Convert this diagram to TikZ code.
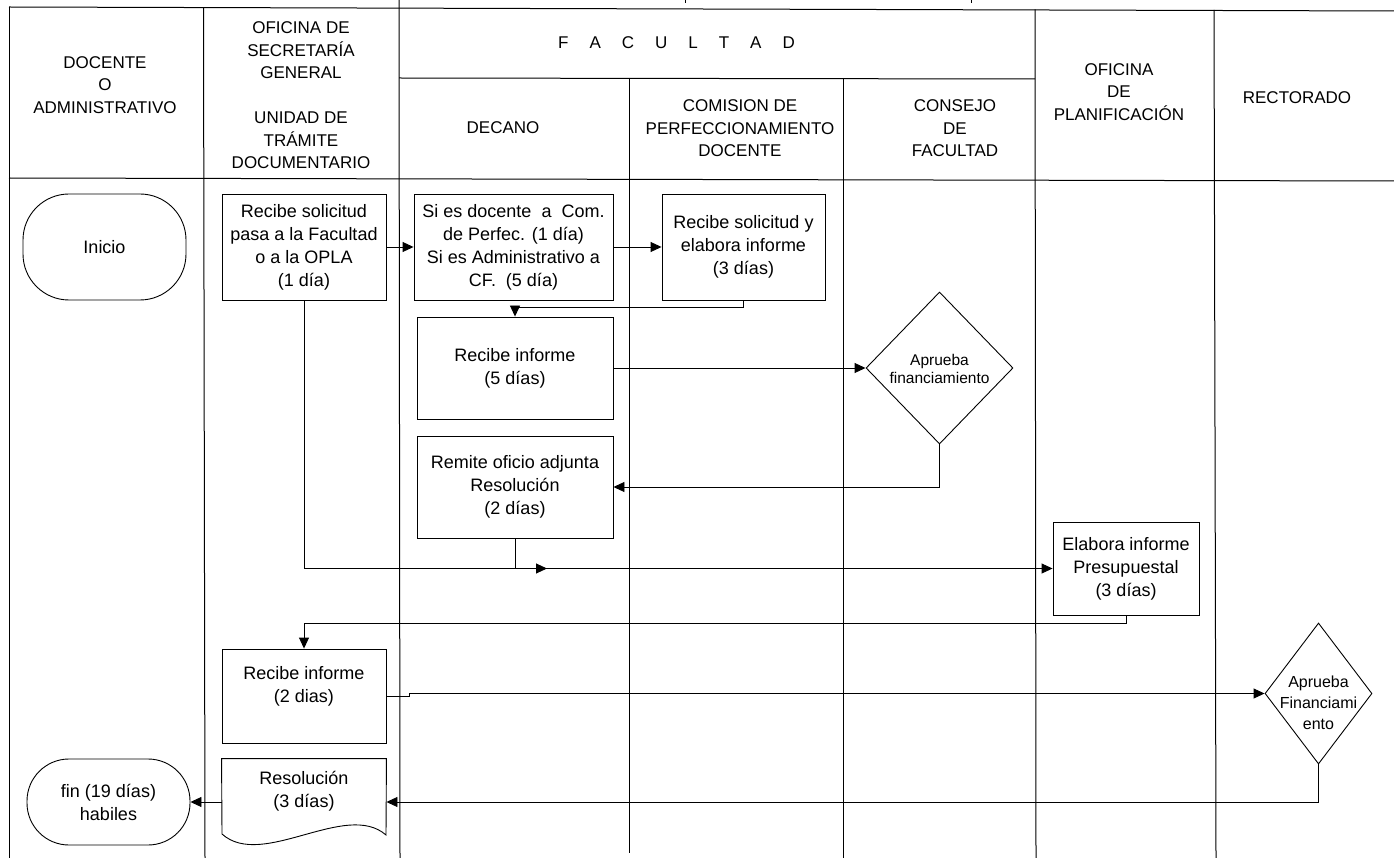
\documentclass[tikz,border=0pt]{standalone}
\usepackage{fontspec}
\setmainfont{Liberation Sans}
\usetikzlibrary{shapes.geometric,arrows.meta}
\begin{document}
\begin{tikzpicture}[x=1pt,y=-1pt,
  line width=0.9pt,
  lane/.style={line width=1pt},
  hdr/.style={align=center,font=\fontsize{17}{22.5}\selectfont,inner sep=0},
  box/.style={draw,rectangle,inner sep=0,align=center,font=\fontsize{18}{23}\selectfont},
  term/.style={draw,rectangle,rounded corners=46pt,inner sep=0,align=center,font=\fontsize{18}{23}\selectfont},
  txt/.style={inner sep=0,align=center,font=\fontsize{18}{23}\selectfont},
  dtxt/.style={inner sep=0,align=center,font=\fontsize{15.5}{18}\selectfont},
  dtxtb/.style={inner sep=0,align=center,font=\fontsize{16}{21}\selectfont},
  dec/.style={draw,diamond,inner sep=0},
  arr/.style={-{Triangle[length=11pt,width=10pt]}},
]
\useasboundingbox (0,0) rectangle (1394,858);

% swimlane grid
\draw[lane] (9,7) -- (1394,11);
\draw[lane] (9,178) -- (1394,181);
\draw[lane] (399,78) -- (1035,79);
\draw[lane] (9,7) -- (9,858);
\draw[lane] (203.5,7.5) -- (205,858);
\draw[lane] (399,0) -- (400,858);
\draw[lane] (629,78) -- (629,853);
\draw[lane] (843,78) -- (843,858);
\draw[lane] (1035,9.5) -- (1036,858);
\draw[lane] (1214,10) -- (1216,858);
\draw[line width=0.8pt] (685,0) -- (685,3);
\draw[line width=0.8pt] (971,0) -- (971,3);

% headers
\node[hdr] (hdoc) at (105,85) {DOCENTE\\O\\ADMINISTRATIVO};
\node[hdr] (hsec) at (301,95.5) {OFICINA DE\\SECRETARÍA\\GENERAL\\[22.5pt]UNIDAD DE\\TRÁMITE\\DOCUMENTARIO};
\node[hdr] (hfac) at (676.5,43) {F\hspace{21pt}A\hspace{21pt}C\hspace{21pt}U\hspace{21pt}L\hspace{21pt}T\hspace{21pt}A\hspace{21pt}D};
\node[hdr] (hdecano) at (503,128) {DECANO};
\node[hdr] (hcom) at (740,128.5) {COMISION DE\\PERFECCIONAMIENTO\\DOCENTE};
\node[hdr] (hcons) at (955,128.5) {CONSEJO\\DE\\FACULTAD};
\node[hdr] (hplan) at (1119,92) {OFICINA\\DE\\PLANIFICACIÓN};
\node[hdr] (hrect) at (1297,98) {RECTORADO};

% flow nodes
\node[term,minimum width=163pt,minimum height=106pt] (inicio) at (104.5,247) {Inicio};
\node[box,minimum width=164pt,minimum height=106pt] (utd1) at (304,247) {Recibe solicitud\\pasa a la Facultad\\o a la OPLA\\(1 día)};
\node[box,minimum width=199pt,minimum height=106pt] (dec1) at (513.5,247) {Si es docente\ \ a\ \ Com.\\de Perfec. (1 día)\\Si es Administrativo a\\CF.\ \ (5 día)};
\node[box,minimum width=163pt,minimum height=106pt] (com1) at (743.5,247) {Recibe solicitud y\\elabora informe\\(3 días)};
\node[box,minimum width=196pt,minimum height=102pt] (dec2) at (515,368) {Recibe informe\\(5 días)};
\node[dec,minimum width=147pt,minimum height=152pt] (dia1) at (939.5,368) {};
\node[dtxt] (dia1t) at (939.5,369) {Aprueba\\financiamiento};
\node[box,minimum width=196pt,minimum height=102pt] (dec3) at (515,487) {Remite oficio adjunta\\Resolución\\(2 días)};
\node[box,minimum width=146pt,minimum height=93pt] (elab) at (1126,568.5) {Elabora informe\\Presupuestal\\(3 días)};
\node[box,minimum width=164pt,minimum height=94pt] (utd2) at (304,696) {};
\node[txt] (utd2t) at (304,686) {Recibe informe\\(2 dias)};
\node[dec,minimum width=107pt,minimum height=141pt] (dia2) at (1318.5,693.5) {};
\node[dtxtb] (dia2t) at (1318.5,703) {Aprueba\\Financiami\\ento};
\node[inner sep=0,minimum width=164pt,minimum height=86pt] (resol) at (304,802) {};
\draw (resol.north west) -- (resol.north east) -- (386,835)
  .. controls (346,800) and (262,870) .. (222,834) -- cycle;
\node[txt] (resolt) at (304,791.5) {Resolución\\(3 días)};
\node[term,rounded corners=42pt,minimum width=163pt,minimum height=86pt] (fin) at (108.5,802) {fin (19 días)\\habiles};

\coordinate (joinarr) at (547,568.5);
\coordinate (jog1) at (409,696);
\coordinate (jog2) at (409,693.5);

% connectors
\draw[arr] (utd1) -- (dec1);
\draw[arr] (dec1) -- (com1);
\draw[arr] (com1.south) -- ++(0,7) -| (dec2.north);
\draw[arr] (dec2) -- (dia1);
\draw[arr] (dia1.south) |- (dec3.east);
\draw[arr] (utd1.south) |- (elab.west);
\draw[arr] (dec3.south) |- (joinarr);
\draw[arr] (elab.south) -- ++(0,8) -| (utd2.north);
\draw[arr] (utd2.east) -- (jog1) -- (jog2) -- (dia2.west);
\draw[arr] (dia2.south) |- (resol.east);
\draw[arr] (resol.west) -- (fin.east);
\end{tikzpicture}
\end{document}
